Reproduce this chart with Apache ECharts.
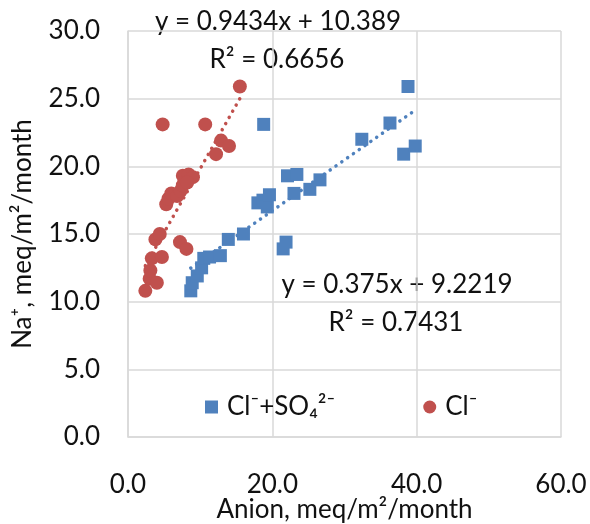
<!DOCTYPE html>
<html>
<head>
<meta charset="utf-8">
<script src="https://cdn.jsdelivr.net/npm/echarts@6/dist/echarts.min.js"></script>
<style>
  html, body { margin: 0; padding: 0; background: #fff; }
  #chart { width: 590px; height: 524px; }
</style>
</head>
<body>
<div id="chart"></div>
<script>
// Cl- + SO4 2- (blue squares)
const sumX = [8.7, 8.9, 9.6, 10.2, 10.5, 11.3, 12.8, 13.9, 16.0, 18.0, 18.7, 19.3, 19.6, 18.8,
  21.5, 21.9, 22.1, 23.4, 23.0, 25.2, 26.6, 32.4, 36.3, 38.2, 39.8, 38.8];
const sumY = [10.8, 11.4, 11.9, 12.5, 13.2, 13.3, 13.4, 14.6, 15.0, 17.3, 17.5, 17.0, 17.9, 23.1,
  13.9, 14.4, 19.3, 19.4, 18.0, 18.3, 19.0, 22.0, 23.2, 20.9, 21.5, 25.9];

// Cl- only (red circles)
const clX = [2.4, 3.0, 4.0, 3.1, 3.3, 4.7, 3.8, 4.4, 7.2, 8.1, 5.3, 5.6, 6.0, 6.8, 7.3, 7.6, 7.6,
  8.4, 9.0, 8.2, 4.8, 10.7, 12.2, 12.9, 14.0, 15.5];
const clY = [10.8, 11.7, 11.4, 12.3, 13.2, 13.3, 14.6, 15.0, 14.4, 13.9, 17.2, 17.6, 18.0, 17.8,
  18.2, 18.6, 19.3, 19.4, 19.2, 18.8, 23.1, 23.1, 20.9, 21.9, 21.5, 25.9];

// trendline coefficients as printed on the chart [slope, intercept]
const sumFit = [0.375, 9.2219];
const clFit = [0.9434, 10.389];

const xTicks = [0, 20, 40, 60];
const yTicks = [0, 5, 10, 15, 20, 25, 30];

const BLUE = '#4f81bd';
const RED = '#c0504d';
const INK = '#111';
const FONT = 'Lato';
const FS = 26;

const pairs = (xs, ys) => xs.map((x, i) => [x, ys[i]]);
// trendline spans the x range of its data
const fitLine = (xs, fit) => {
  const lo = Math.min(...xs), hi = Math.max(...xs);
  return [[lo, fit[0] * lo + fit[1]], [hi, fit[0] * hi + fit[1]]];
};

const chart = echarts.init(document.getElementById('chart'));

const dotted = color => ({ color: color, width: 3.5, type: [0.1, 7], cap: 'round' });
const note = (text, x, y) => ({
  type: 'text', x: x, y: y,
  style: { text: text, font: FS + 'px ' + FONT, fill: INK, align: 'center', verticalAlign: 'middle' }
});

chart.setOption({
  animation: false,
  textStyle: { fontFamily: FONT },
  grid: { left: 128, right: 29, top: 31, bottom: 87, outerBoundsMode: 'none' },
  legend: {
    data: [
      { name: 'Cl⁻+SO₄²⁻', icon: 'rect' },
      { name: 'Cl⁻', icon: 'circle' }
    ],
    left: 200,
    top: 389,
    itemWidth: 13,
    itemHeight: 13,
    itemGap: 88,
    textStyle: { fontSize: FS, color: INK, fontFamily: FONT, padding: [0, 0, 0, 4] }
  },
  xAxis: {
    type: 'value',
    min: xTicks[0],
    max: xTicks[xTicks.length - 1],
    interval: xTicks[1] - xTicks[0],
    name: 'Anion, meq/m²/month',
    nameLocation: 'middle',
    nameGap: 60,
    nameMoveOverlap: false,
    nameTextStyle: { fontSize: FS, color: INK },
    axisLine: { lineStyle: { color: '#d9d9d9', width: 1.5 } },
    axisTick: { show: false },
    axisLabel: { fontSize: FS, color: INK, margin: 35, formatter: v => v.toFixed(1) },
    splitLine: { show: true, lineStyle: { color: '#d9d9d9', width: 1.5 } }
  },
  yAxis: {
    type: 'value',
    min: yTicks[0],
    max: yTicks[yTicks.length - 1],
    interval: yTicks[1] - yTicks[0],
    name: 'Na⁺, meq/m²/month',
    nameLocation: 'middle',
    nameGap: 92,
    nameMoveOverlap: false,
    nameTextStyle: { fontSize: FS, color: INK },
    axisLine: { show: true, lineStyle: { color: '#d9d9d9', width: 1.5 } },
    axisTick: { show: false },
    axisLabel: { fontSize: FS, color: INK, margin: 28, formatter: v => v.toFixed(1) },
    splitLine: { show: true, lineStyle: { color: '#d9d9d9', width: 1.5 } }
  },
  series: [
    {
      name: 'Cl⁻+SO₄²⁻ fit',
      type: 'line',
      data: fitLine(sumX, sumFit),
      symbol: 'none',
      lineStyle: dotted(BLUE),
      z: 1
    },
    {
      name: 'Cl⁻ fit',
      type: 'line',
      data: fitLine(clX, clFit),
      symbol: 'none',
      lineStyle: dotted(RED),
      z: 1
    },
    {
      name: 'Cl⁻+SO₄²⁻',
      type: 'scatter',
      symbol: 'rect',
      symbolSize: 13,
      itemStyle: { color: BLUE, opacity: 1 },
      data: pairs(sumX, sumY),
      z: 2
    },
    {
      name: 'Cl⁻',
      type: 'scatter',
      symbol: 'circle',
      symbolSize: 14,
      itemStyle: { color: RED, opacity: 1 },
      data: pairs(clX, clY),
      z: 2
    }
  ],
  graphic: [
    note('y = 0.9434x + 10.389', 278, 22),
    note('R² = 0.6656', 277, 60),
    note('y = 0.375x + 9.2219', 397, 285),
    note('R² = 0.7431', 396, 323)
  ]
});
</script>
</body>
</html>
